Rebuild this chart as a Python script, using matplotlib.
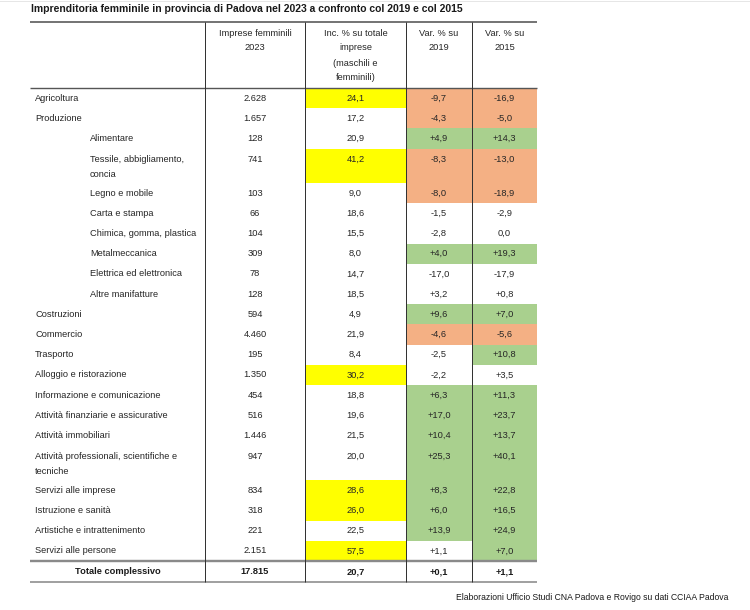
import matplotlib
matplotlib.use("Agg")
import matplotlib.pyplot as plt
from matplotlib.patches import Rectangle

# ---------------- data ----------------
title = "Imprenditoria femminile in provincia di Padova nel 2023 a confronto col 2019 e col 2015"
footer = "Elaborazioni Ufficio Studi CNA Padova e Rovigo su dati CCIAA Padova"

categories = ["Agricoltura", "Produzione", "Alimentare", "Tessile, abbigliamento,\nconcia",
              "Legno e mobile", "Carta e stampa", "Chimica, gomma, plastica", "Metalmeccanica",
              "Elettrica ed elettronica", "Altre manifatture", "Costruzioni", "Commercio",
              "Trasporto", "Alloggio e ristorazione", "Informazione e comunicazione",
              "Attività finanziarie e assicurative", "Attività immobiliari",
              "Attività professionali, scientifiche e\ntecniche", "Servizi alle imprese",
              "Istruzione e sanità", "Artistiche e intrattenimento", "Servizi alle persone"]
indented = [False, False, True, True, True, True, True, True, True, True,
            False, False, False, False, False, False, False, False, False, False, False, False]
imprese = [2628, 1657, 128, 741, 103, 66, 104, 309, 78, 128, 594, 4460, 195, 1350,
           454, 516, 1446, 947, 834, 318, 221, 2151]
incidenza = [24.1, 17.2, 20.9, 41.2, 9.0, 18.6, 15.5, 8.0, 14.7, 18.5, 4.9, 21.9, 8.4, 30.2,
             18.8, 19.6, 21.5, 20.0, 28.6, 26.0, 22.5, 57.5]
var2019 = [-9.7, -4.3, 4.9, -8.3, -8.0, -1.5, -2.8, 4.0, -17.0, 3.2, 9.6, -4.6, -2.5, -2.2,
           6.3, 17.0, 10.4, 25.3, 8.3, 6.0, 13.9, 1.1]
var2015 = [-16.9, -5.0, 14.3, -13.0, -18.9, -2.9, 0.0, 19.3, -17.9, 0.8, 7.0, -5.6, 10.8, 3.5,
           11.3, 23.7, 13.7, 40.1, 22.8, 16.5, 24.9, 7.0]
# highlight codes: y = yellow, o = orange, g = green, "" = none
hl_incidenza = ["y", "", "", "y", "", "", "", "", "", "", "", "", "", "y",
                "", "", "", "", "y", "y", "", "y"]
hl_var2019 = ["o", "o", "g", "o", "o", "", "", "g", "", "", "g", "o", "", "",
              "g", "g", "g", "g", "g", "g", "g", ""]
hl_var2015 = ["o", "o", "g", "o", "o", "", "", "g", "", "", "g", "o", "g", "",
              "g", "g", "g", "g", "g", "g", "g", "g"]
total_label = "Totale complessivo"
total_values = [17815, 20.7, 0.1, 1.1]

headers = [
    [],
    ["Imprese femminili\n2023"],
    ["Inc. % su totale\nimprese", "(maschili e\nfemminili)"],
    ["Var. % su\n2019"],
    ["Var. % su\n2015"],
]

# ---------------- formatting helpers ----------------
def fmt_int(v):
    return f"{v:,}".replace(",", ".")

def fmt_dec(v):
    return f"{v:.1f}".replace(".", ",")

def fmt_var(v):
    s = fmt_dec(abs(v))
    if v > 0:
        return "+" + s
    if v < 0:
        return "-" + s
    return s

colors = {"y": "#FFFF00", "o": "#F4B084", "g": "#A9D08E"}

# ---------------- layout (pixel coordinates) ----------------
W, H = 750, 610
fig = plt.figure(figsize=(W / 100, H / 100), dpi=100)
ax = fig.add_axes([0, 0, 1, 1])
ax.set_xlim(0, W)
ax.set_ylim(H, 0)
ax.axis("off")

FONT = "Liberation Sans"
TXT = "#262626"
FS = 6.7
LS = 1.85
px = 0.72

col_edges = [30, 205, 305, 406, 472, 537]
top_y = 22
header_bottom = 88
single_h = 20.2
double_h = 34.5

# title
ax.text(31, 9.5, title, fontsize=7.5, fontweight="bold", family=FONT, color="#1a1a1a",
        ha="left", va="center")
# faint top border of the image
ax.plot([0, W], [0.5, 0.5], color="#e6e6e6", lw=1 * px)

# headers
for ci, lines in enumerate(headers):
    if not lines:
        continue
    cx = (col_edges[ci] + col_edges[ci + 1]) / 2
    y0 = 28.5
    for block in lines:
        ax.text(cx, y0, block, fontsize=FS, family=FONT, color=TXT, ha="center", va="top",
                linespacing=LS)
        y0 += 30

# rows
y = header_bottom
for i, cat in enumerate(categories):
    h = double_h if "\n" in cat else single_h
    # fills
    for ci, code in [(2, hl_incidenza[i]), (3, hl_var2019[i]), (4, hl_var2015[i])]:
        if code:
            ax.add_patch(Rectangle((col_edges[ci], y), col_edges[ci + 1] - col_edges[ci], h,
                                   facecolor=colors[code], edgecolor="none", zorder=1))
    if "\n" in cat:
        ty, va = y + 6.5, "top"
    else:
        ty, va = y + h / 2, "center"
    lx = 90 if indented[i] else 35
    ax.text(lx, ty, cat, fontsize=FS, family=FONT, color=TXT, ha="left", va=va,
            linespacing=LS, zorder=3)
    vals = [fmt_int(imprese[i]), fmt_dec(incidenza[i]), fmt_var(var2019[i]), fmt_var(var2015[i])]
    for ci, s in enumerate(vals, start=1):
        cx = (col_edges[ci] + col_edges[ci + 1]) / 2
        ax.text(cx, ty, s, fontsize=FS, family=FONT, color=TXT, ha="center", va=va, zorder=3)
    y += h

data_bottom = y
total_bottom = data_bottom + 21

# total row
ty = (data_bottom + total_bottom) / 2 + 0.5
ax.text((col_edges[0] + col_edges[1]) / 2, ty, total_label, fontsize=FS, fontweight="bold",
        family=FONT, color="#1a1a1a", ha="center", va="center")
tvals = [fmt_int(total_values[0]), fmt_dec(total_values[1]),
         fmt_var(total_values[2]), fmt_var(total_values[3])]
for ci, s in enumerate(tvals, start=1):
    cx = (col_edges[ci] + col_edges[ci + 1]) / 2
    ax.text(cx, ty, s, fontsize=FS, fontweight="bold", family=FONT, color="#1a1a1a",
            ha="center", va="center")

# lines
x0, x1 = col_edges[0], col_edges[-1]
ax.plot([x0, x1], [top_y, top_y], color="#555555", lw=1.6 * px, zorder=4, solid_capstyle="butt")
ax.plot([x0, x1], [header_bottom, header_bottom], color="#555555", lw=1.4 * px, zorder=4,
        solid_capstyle="butt")
ax.plot([x0, x1], [data_bottom, data_bottom], color="#8a8a8a", lw=2.4 * px, zorder=4,
        solid_capstyle="butt")
ax.plot([x0, x1], [total_bottom, total_bottom], color="#8a8a8a", lw=1.6 * px, zorder=4,
        solid_capstyle="butt")
for xe in col_edges[1:-1]:
    ax.plot([xe, xe], [top_y, total_bottom], color="#333333", lw=1.0 * px, zorder=4,
            solid_capstyle="butt")

# footer
ax.text(728, 597, footer, fontsize=6.25, family=FONT, color="#1a1a1a", ha="right", va="center")

fig.savefig("out.png", dpi=100, facecolor="white")
